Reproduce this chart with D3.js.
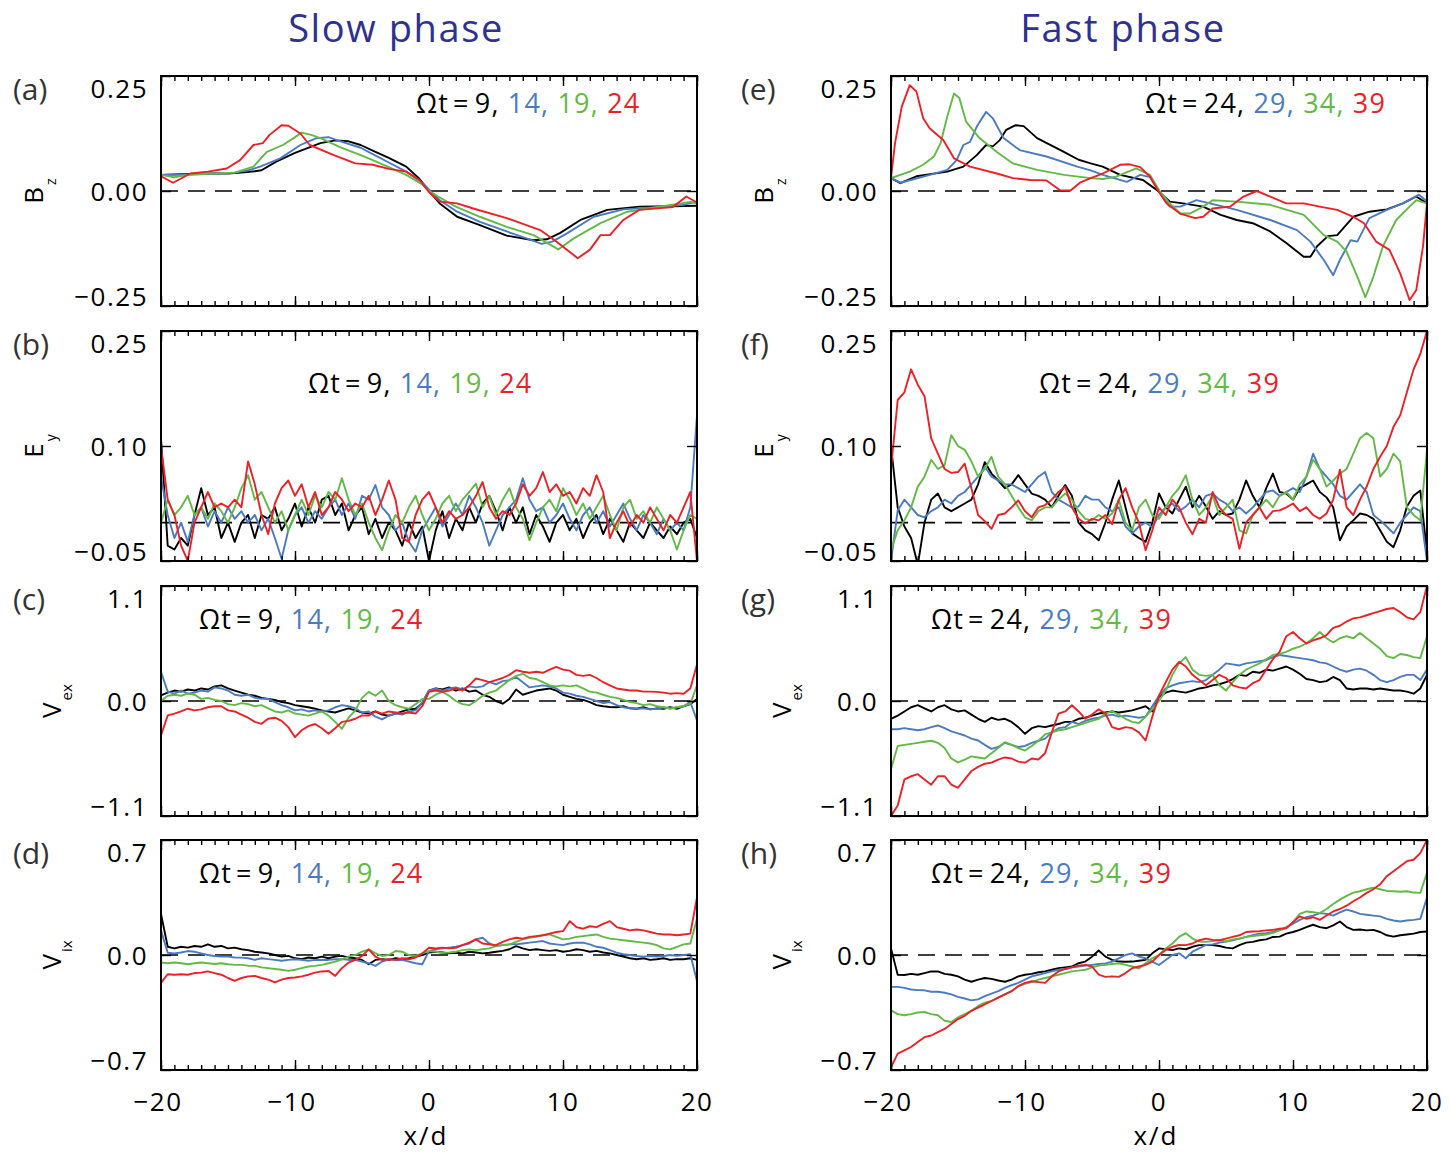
<!DOCTYPE html>
<html><head><meta charset="utf-8">
<script src="https://cdn.jsdelivr.net/npm/d3@7"></script>
<style>body{margin:0;background:#fff} svg{display:block}</style>
</head><body>
<svg id="c" width="1451" height="1153"></svg>
<script>
// ---------------- DATA ----------------
const colors = ["#000000", "#4a7bc0", "#63b946", "#ec2127"];
const legendSlow = ["9", "14", "19", "24"];
const legendFast = ["24", "29", "34", "39"];
const xMajorTicks = [-20, -10, 0, 10, 20];
const xTickLabels = ["\u221220", "\u221210", "0", "10", "20"];

const bzTicks = [-0.25, 0.00, 0.25], bzLabels = ["\u22120.25", "0.00", "0.25"];
const eyTicks = [-0.05, 0.10, 0.25], eyLabels = ["\u22120.05", "0.10", "0.25"];
const vexTicks = [-1.1, 0.0, 1.1], vexLabels = ["\u22121.1", "0.0", "1.1"];
const vixTicks = [-0.7, 0.0, 0.7], vixLabels = ["\u22120.7", "0.0", "0.7"];

// (a) Bz slow phase, [x, value]
const bzSlow9 = [[-20,0.035],[-18,0.037],[-16,0.038],[-15,0.038],[-14,0.04],[-13,0.043],[-12.5,0.045],[-11.4,0.064],[-10,0.083],[-8.1,0.104],[-7,0.11],[-6,0.108],[-5.1,0.1],[-4.2,0.088],[-3,0.072],[-1.7,0.053],[-0.7,0.026],[0,0.0],[0.8,-0.027],[2.1,-0.056],[3.8,-0.074],[5.8,-0.097],[7.8,-0.107],[8.8,-0.105],[9.8,-0.091],[11.3,-0.063],[13.3,-0.041],[15.7,-0.034],[18.2,-0.033],[20,-0.032]];
const bzSlow14 = [[-20,0.035],[-18,0.036],[-16,0.038],[-14.5,0.04],[-13.5,0.045],[-12.6,0.053],[-11.1,0.071],[-9.6,0.1],[-8.4,0.115],[-7.5,0.117],[-6.6,0.108],[-5.1,0.094],[-4.2,0.08],[-3,0.062],[-1.7,0.042],[-0.5,0.018],[0.1,0.0],[0.8,-0.02],[2.1,-0.045],[3.8,-0.067],[5.8,-0.088],[7.5,-0.105],[8.4,-0.115],[9.2,-0.11],[10.3,-0.092],[12.3,-0.056],[14.5,-0.04],[17,-0.035],[19,-0.03],[20,-0.023]];
const bzSlow19 = [[-20,0.035],[-19,0.03],[-18,0.035],[-16,0.038],[-14.5,0.04],[-13.1,0.053],[-12.1,0.085],[-10.9,0.1],[-10.1,0.115],[-9.5,0.127],[-8.8,0.122],[-8.1,0.115],[-6.6,0.095],[-5.1,0.078],[-4.2,0.067],[-3,0.052],[-1.7,0.035],[-0.5,0.014],[0,0.0],[0.8,-0.014],[2,-0.034],[3.8,-0.056],[5.8,-0.078],[7.8,-0.096],[9.65,-0.127],[10.8,-0.103],[12.8,-0.07],[14.8,-0.045],[17,-0.035],[19.5,-0.024],[20,-0.027]];
const bzSlow24 = [[-20,0.032],[-19.1,0.018],[-17.8,0.038],[-16.5,0.042],[-15.1,0.049],[-14.1,0.067],[-13.1,0.1],[-12.4,0.104],[-11.9,0.122],[-11,0.143],[-10.5,0.142],[-9.6,0.125],[-8.9,0.1],[-7.1,0.078],[-5.5,0.06],[-4.2,0.057],[-3,0.048],[-1.7,0.042],[-0.7,0.024],[0.05,-0.004],[0.8,-0.023],[2.1,-0.027],[3.3,-0.038],[5.8,-0.059],[8.3,-0.085],[9.5,-0.11],[11.1,-0.146],[12,-0.128],[12.8,-0.096],[13.5,-0.096],[14.5,-0.063],[15.7,-0.041],[18.2,-0.035],[19.2,-0.012],[20,-0.025]];

// (e) Bz fast phase, [x, value]
const bzFast24 = [[-20,0.028],[-19.3,0.017],[-18.1,0.032],[-15.8,0.042],[-14.6,0.053],[-13.6,0.078],[-12.9,0.1],[-12.4,0.097],[-11.9,0.11],[-11.4,0.133],[-10.7,0.143],[-10.1,0.141],[-9.1,0.115],[-7.1,0.085],[-6,0.068],[-5.1,0.06],[-4.2,0.053],[-2.9,0.035],[-1.2,0.024],[-0.2,0.003],[0.8,-0.023],[1.8,-0.027],[3.3,-0.034],[4.6,-0.052],[5.8,-0.063],[7,-0.07],[8.3,-0.088],[9.5,-0.113],[10.8,-0.143],[11.3,-0.143],[11.8,-0.12],[12.6,-0.098],[13.3,-0.096],[14.5,-0.056],[15.7,-0.045],[17,-0.04],[18.2,-0.027],[19.2,-0.012],[20,-0.027]];
const bzFast29 = [[-20,0.028],[-19.3,0.018],[-17.1,0.035],[-15.8,0.046],[-15.1,0.067],[-14.6,0.1],[-14.1,0.107],[-13.6,0.14],[-12.9,0.172],[-12.4,0.158],[-11.6,0.115],[-10.4,0.089],[-8.4,0.075],[-6.1,0.053],[-5.1,0.045],[-4.2,0.035],[-2.4,0.02],[-1.4,0.035],[-0.67,0.03],[0,0.0],[0.8,-0.034],[1.6,-0.034],[2.8,-0.02],[3.8,-0.027],[5.8,-0.041],[8.3,-0.063],[10.3,-0.085],[11.3,-0.11],[12.3,-0.15],[13,-0.183],[13.5,-0.15],[14.3,-0.107],[14.8,-0.11],[15.7,-0.059],[17,-0.041],[18.2,-0.027],[19.4,-0.008],[20,-0.023]];
const bzFast34 = [[-20,0.028],[-18.6,0.042],[-17.6,0.057],[-16.8,0.075],[-16.3,0.104],[-15.8,0.162],[-15.3,0.212],[-14.9,0.202],[-14.4,0.151],[-13.4,0.115],[-12.1,0.085],[-10.9,0.06],[-9.1,0.046],[-7.1,0.035],[-5.1,0.028],[-4.2,0.026],[-3.2,0.031],[-1.7,0.049],[-0.67,0.035],[0.05,0.0],[0.8,-0.027],[1.6,-0.049],[2.3,-0.049],[3.3,-0.034],[4,-0.02],[5.8,-0.023],[8.3,-0.03],[10.8,-0.052],[12.3,-0.096],[13.3,-0.11],[14,-0.132],[14.8,-0.186],[15.4,-0.231],[16,-0.186],[16.7,-0.121],[17.7,-0.063],[18.7,-0.034],[19.2,-0.02],[20,-0.027]];
const bzFast39 = [[-20,0.028],[-19.7,0.104],[-19.2,0.183],[-18.6,0.23],[-18.1,0.216],[-17.6,0.158],[-17.1,0.136],[-16.1,0.111],[-15.3,0.071],[-14.1,0.053],[-12.1,0.038],[-10.9,0.028],[-9.6,0.024],[-8.4,0.023],[-7.4,0.002],[-6.6,0.001],[-5.9,0.018],[-5.1,0.028],[-4.2,0.038],[-2.9,0.057],[-2.2,0.058],[-1.4,0.052],[-0.67,0.031],[-0.05,0.0],[0.57,-0.027],[1.57,-0.049],[2.7,-0.059],[3.3,-0.056],[4,-0.038],[5.3,-0.034],[6.3,-0.012],[7.3,0.0],[8.3,-0.012],[9.5,-0.027],[10.8,-0.027],[12,-0.034],[13.3,-0.041],[14.5,-0.056],[15.3,-0.07],[16.2,-0.11],[17.2,-0.128],[18,-0.179],[18.7,-0.237],[19.2,-0.215],[19.7,-0.121],[20,-0.027]];

// (b) Ey slow phase, sampled evenly from x=-20 to x=20 (step 0.5)
const eySlow9 = [0.11,-0.03,-0.035,-0.02,-0.03,0.01,0.045,0.01,0.02,-0.02,0.0,-0.025,0.0,0.01,-0.02,0.01,0.005,0.02,-0.01,0.005,0.025,-0.005,0.02,0.0,0.03,0.035,0.01,0.025,-0.01,0.01,0.02,-0.015,0.005,-0.02,0.0,-0.01,-0.03,0.0,-0.02,-0.005,-0.05,-0.01,0.015,-0.02,0.005,-0.01,0.02,0.0,0.025,0.035,0.015,-0.01,0.02,0.0,0.02,-0.015,0.01,-0.005,-0.025,0.0,0.01,-0.01,0.005,-0.02,0.0,0.01,-0.015,0.005,-0.01,-0.025,0.0,-0.01,-0.02,0.0,-0.01,-0.02,-0.005,-0.015,0.0,0.005,-0.02];
const eySlow14 = [0.06,0.01,-0.02,0.0,-0.025,0.01,0.02,-0.005,0.015,0.0,0.02,0.005,0.015,0.0,0.01,-0.01,0.005,-0.02,-0.047,-0.01,0.01,0.02,0.0,0.015,0.005,0.02,0.03,0.01,0.025,0.005,0.035,0.03,0.049,0.02,0.01,-0.01,0.0,-0.025,-0.038,-0.01,0.005,0.02,-0.005,0.01,0.025,0.01,0.035,0.02,0.0,-0.03,-0.01,0.01,0.02,0.03,0.058,0.03,0.015,0.02,0.0,0.01,0.025,0.005,-0.01,0.01,0.02,0.0,0.015,-0.005,0.01,0.025,0.005,-0.01,0.01,0.0,-0.015,0.005,-0.01,0.0,-0.01,0.02,0.14];
const eySlow19 = [0.0,0.03,0.01,0.02,0.035,0.01,0.02,0.005,0.025,0.015,0.0,0.02,0.045,0.062,0.03,0.04,0.02,0.0,0.015,-0.01,0.01,0.03,0.01,0.035,0.02,0.04,0.03,0.058,0.03,0.01,0.025,0.0,-0.02,-0.036,-0.01,0.01,0.0,0.02,0.035,0.01,-0.01,0.005,0.025,0.035,0.015,0.03,0.04,0.051,0.02,0.035,0.01,0.03,0.045,0.02,0.005,-0.023,0.0,0.02,0.03,0.015,0.045,0.03,0.01,0.025,0.005,0.02,0.035,0.01,-0.01,0.02,0.03,0.005,0.015,0.0,0.02,0.005,-0.01,-0.035,-0.01,0.01,0.005];
const eySlow24 = [0.10,0.03,0.01,-0.03,-0.05,0.0,0.02,0.04,0.02,0.025,0.02,0.03,0.02,0.08,0.05,0.01,-0.015,0.025,0.045,0.055,0.035,0.05,0.02,0.04,0.01,0.02,0.04,0.03,0.015,0.025,0.02,0.035,0.01,0.03,0.055,0.03,-0.02,-0.025,0.01,0.03,0.04,0.02,0.0,0.015,0.005,0.01,0.02,0.035,0.053,0.02,0.005,0.015,0.01,0.025,0.05,0.035,0.045,0.066,0.04,0.05,0.035,0.04,0.025,0.045,0.035,0.062,0.04,-0.02,0.0,0.015,-0.005,0.01,0.0,0.02,0.005,-0.01,0.01,0.0,0.02,0.04,-0.05];

// (f) Ey fast phase, sampled evenly (step 0.5)
const eyFast24 = [0.1,0.02,-0.005,-0.02,-0.055,0.0,0.03,0.038,0.02,0.015,0.02,0.025,0.03,0.05,0.079,0.064,0.055,0.045,0.05,0.062,0.05,0.038,0.035,0.03,0.02,0.035,0.049,0.035,0.0,-0.01,-0.015,-0.023,0.0,0.03,0.055,0.02,-0.014,-0.02,-0.025,0.0,0.038,0.02,0.012,0.03,0.047,0.02,0.035,0.021,0.005,0.015,0.01,0.012,0.03,0.055,0.035,0.02,0.045,0.064,0.04,0.038,0.03,0.045,0.05,0.055,0.04,0.033,0.02,-0.023,-0.005,0.003,0.012,0.01,0.005,-0.01,-0.025,-0.032,-0.01,0.021,0.035,0.042,-0.04];
const eyFast29 = [-0.05,0.016,0.03,0.02,0.01,0.007,0.015,0.02,0.03,0.025,0.035,0.04,0.05,0.06,0.073,0.06,0.055,0.05,0.05,0.045,0.04,0.05,0.06,0.066,0.04,0.03,0.025,0.02,0.021,0.035,0.03,0.03,0.02,0.015,0.02,-0.005,-0.014,-0.005,0.0,-0.006,0.01,0.02,0.025,0.015,0.021,0.03,0.02,0.035,0.038,0.03,0.025,0.015,0.02,0.012,0.02,0.03,0.04,0.042,0.035,0.04,0.045,0.04,0.06,0.09,0.07,0.06,0.05,0.035,0.03,0.04,0.05,0.04,0.01,0.003,-0.005,-0.014,0.0,0.01,0.02,0.015,-0.05];
const eyFast34 = [-0.036,-0.01,0.003,0.02,0.047,0.06,0.082,0.07,0.075,0.114,0.1,0.095,0.08,0.06,0.07,0.086,0.06,0.05,0.035,0.02,0.007,0.003,0.015,0.02,0.02,0.03,0.038,0.03,0.015,0.005,0.003,0.01,0.005,0.012,0.03,0.0,-0.01,0.02,0.03,0.01,0.005,0.02,0.035,0.045,0.062,0.03,0.01,0.02,0.035,0.01,0.02,0.03,-0.01,-0.014,0.01,0.02,0.03,0.02,0.035,0.04,0.03,0.05,0.06,0.082,0.07,0.047,0.055,0.064,0.07,0.09,0.11,0.117,0.11,0.06,0.07,0.09,0.08,0.02,0.01,0.003,0.095];
const eyFast39 = [0.07,0.16,0.17,0.2,0.18,0.165,0.11,0.09,0.07,0.065,0.066,0.077,0.045,0.01,0.002,-0.008,0.01,0.012,0.02,0.029,0.015,0.007,0.02,0.023,0.03,0.04,0.047,0.02,0.005,-0.001,0.005,0.003,0.01,-0.002,0.03,0.045,0.02,0.0,-0.036,-0.01,0.02,0.01,0.03,0.02,0.0,-0.015,0.005,0.0,0.04,0.02,0.01,0.005,-0.034,0.0,0.01,0.02,0.005,0.015,0.016,0.02,0.025,0.015,0.02,0.01,0.005,0.012,0.03,0.069,0.02,0.01,0.03,0.047,0.07,0.086,0.1,0.125,0.14,0.17,0.2,0.22,0.25];

// (c) Vex slow phase, sampled evenly (step 0.5)
const vexSlow9 = [0.055,0.08,0.1,0.09,0.11,0.1,0.12,0.11,0.14,0.15,0.12,0.1,0.08,0.06,0.05,0.03,0.02,0.01,-0.01,-0.02,-0.04,-0.05,-0.06,-0.074,-0.09,-0.1,-0.11,-0.09,-0.07,-0.09,-0.11,-0.12,-0.1,-0.13,-0.14,-0.12,-0.1,-0.08,-0.074,-0.02,0.1,0.12,0.11,0.13,0.1,0.12,0.09,0.1,0.06,0.04,0.0,-0.026,0.02,0.11,0.06,0.08,0.1,0.11,0.12,0.1,0.06,0.04,0.02,0.01,-0.01,-0.04,-0.05,-0.058,-0.06,-0.05,-0.07,-0.074,-0.06,-0.08,-0.07,-0.074,-0.06,-0.074,-0.05,-0.03,0.02];
const vexSlow14 = [0.28,0.09,0.07,0.1,0.07,0.08,0.1,0.09,0.13,0.12,0.1,0.06,0.05,0.06,0.03,0.02,0.02,-0.01,-0.04,-0.06,-0.09,-0.08,-0.1,-0.09,-0.1,-0.09,-0.06,-0.04,-0.05,-0.07,-0.11,-0.1,-0.15,-0.176,-0.14,-0.12,-0.13,-0.1,-0.09,-0.01,0.1,0.12,0.1,0.12,0.13,0.11,0.14,0.13,0.14,0.18,0.16,0.19,0.2,0.23,0.18,0.13,0.14,0.15,0.14,0.12,0.08,0.07,0.05,0.04,0.02,0.0,-0.02,-0.01,-0.04,-0.06,-0.07,-0.074,-0.07,-0.08,-0.074,-0.06,-0.07,-0.06,-0.05,-0.01,-0.186];
const vexSlow19 = [0.0,0.05,0.06,0.05,0.07,0.06,0.02,0.03,0.01,0.0,-0.03,-0.04,-0.02,-0.03,-0.05,-0.04,-0.07,-0.1,-0.11,-0.09,-0.12,-0.13,-0.14,-0.12,-0.1,-0.14,-0.2,-0.266,-0.16,-0.09,0.03,0.087,0.05,0.1,0.0,-0.04,-0.06,-0.074,-0.03,0.02,0.02,0.06,0.087,0.05,0.0,-0.03,-0.04,0.0,0.05,0.08,0.1,0.15,0.2,0.24,0.26,0.22,0.21,0.18,0.15,0.14,0.15,0.14,0.15,0.12,0.09,0.08,0.06,0.04,0.03,0.01,-0.01,-0.02,-0.04,-0.03,-0.05,-0.06,-0.074,-0.06,-0.05,-0.026,0.15];
const vexSlow24 = [-0.33,-0.138,-0.12,-0.1,-0.074,-0.09,-0.08,-0.06,-0.05,-0.05,-0.09,-0.1,-0.13,-0.16,-0.2,-0.218,-0.17,-0.16,-0.19,-0.25,-0.346,-0.28,-0.24,-0.22,-0.26,-0.314,-0.26,-0.2,-0.19,-0.17,-0.138,-0.14,-0.1,-0.12,-0.1,-0.11,-0.12,-0.11,-0.12,-0.05,0.087,0.1,0.087,0.1,0.12,0.1,0.15,0.215,0.2,0.18,0.2,0.22,0.25,0.295,0.28,0.27,0.28,0.27,0.3,0.327,0.3,0.29,0.25,0.24,0.25,0.22,0.18,0.15,0.12,0.11,0.1,0.1,0.09,0.09,0.087,0.08,0.07,0.075,0.07,0.12,0.35];

// (g) Vex fast phase, sampled evenly (step 0.5)
const vexFast24 = [-0.17,-0.14,-0.1,-0.06,-0.04,-0.07,-0.1,-0.06,-0.04,-0.08,-0.1,-0.09,-0.13,-0.17,-0.2,-0.16,-0.18,-0.17,-0.2,-0.25,-0.314,-0.26,-0.24,-0.25,-0.234,-0.22,-0.2,-0.2,-0.17,-0.16,-0.14,-0.12,-0.11,-0.1,-0.11,-0.1,-0.09,-0.07,-0.05,-0.1,0.04,0.08,0.1,0.09,0.08,0.1,0.12,0.13,0.15,0.16,0.18,0.21,0.25,0.24,0.28,0.27,0.3,0.29,0.31,0.33,0.3,0.26,0.21,0.2,0.18,0.19,0.23,0.2,0.12,0.11,0.12,0.12,0.11,0.12,0.11,0.1,0.1,0.09,0.07,0.12,0.25];
const vexFast29 = [-0.27,-0.27,-0.26,-0.27,-0.28,-0.27,-0.25,-0.234,-0.26,-0.29,-0.31,-0.33,-0.36,-0.378,-0.42,-0.458,-0.44,-0.4,-0.42,-0.44,-0.43,-0.4,-0.38,-0.36,-0.3,-0.26,-0.25,-0.2,-0.22,-0.19,-0.17,-0.16,-0.14,-0.13,-0.15,-0.14,-0.15,-0.16,-0.15,-0.05,0.05,0.12,0.15,0.17,0.18,0.19,0.18,0.2,0.25,0.3,0.36,0.35,0.34,0.36,0.37,0.38,0.39,0.42,0.44,0.43,0.42,0.41,0.4,0.39,0.37,0.36,0.33,0.3,0.28,0.3,0.31,0.29,0.25,0.2,0.18,0.2,0.23,0.25,0.25,0.2,0.3];
const vexFast34 = [-0.65,-0.43,-0.42,-0.41,-0.4,-0.39,-0.38,-0.4,-0.45,-0.55,-0.587,-0.56,-0.53,-0.54,-0.55,-0.5,-0.45,-0.394,-0.42,-0.45,-0.474,-0.43,-0.38,-0.32,-0.3,-0.28,-0.27,-0.25,-0.23,-0.21,-0.19,-0.17,-0.12,-0.1,-0.13,-0.17,-0.2,-0.21,-0.15,-0.08,0.0,0.1,0.25,0.36,0.42,0.3,0.25,0.24,0.25,0.15,0.1,0.18,0.25,0.3,0.33,0.36,0.4,0.44,0.45,0.47,0.5,0.52,0.55,0.6,0.66,0.6,0.56,0.6,0.62,0.6,0.65,0.6,0.55,0.5,0.43,0.41,0.45,0.44,0.42,0.41,0.62];
const vexFast39 = [-1.1,-1.0,-0.75,-0.72,-0.7,-0.75,-0.8,-0.72,-0.72,-0.8,-0.83,-0.75,-0.67,-0.63,-0.6,-0.59,-0.56,-0.54,-0.55,-0.58,-0.59,-0.55,-0.56,-0.5,-0.3,-0.12,-0.1,-0.04,-0.1,-0.17,-0.13,-0.08,-0.12,-0.25,-0.27,-0.25,-0.26,-0.3,-0.378,-0.15,0.05,0.18,0.3,0.375,0.33,0.25,0.2,0.15,0.2,0.25,0.22,0.15,0.13,0.12,0.17,0.2,0.3,0.4,0.47,0.62,0.66,0.6,0.55,0.58,0.6,0.63,0.7,0.72,0.76,0.79,0.8,0.82,0.84,0.86,0.88,0.89,0.85,0.8,0.78,0.85,1.1];

// (d) Vix slow phase, sampled evenly (step 0.5)
const vixSlow9 = [0.25,0.05,0.04,0.05,0.045,0.055,0.05,0.065,0.05,0.055,0.04,0.045,0.035,0.03,0.02,0.015,0.01,0.0,-0.01,-0.005,-0.02,-0.026,-0.015,-0.02,-0.01,-0.02,-0.01,-0.005,-0.015,-0.02,-0.03,-0.056,-0.03,-0.025,-0.03,-0.02,-0.026,-0.02,-0.01,0.0,0.015,0.02,0.015,0.01,0.014,0.01,0.02,0.015,0.01,0.014,0.02,0.025,0.035,0.054,0.04,0.03,0.035,0.03,0.025,0.03,0.02,0.025,0.035,0.03,0.02,0.025,0.015,0.01,0.0,-0.01,-0.02,-0.026,-0.02,-0.03,-0.026,-0.02,-0.03,-0.025,-0.026,-0.02,-0.03];
const vixSlow14 = [0.15,0.014,0.01,0.015,0.024,0.02,0.01,0.0,-0.006,-0.01,-0.01,-0.015,-0.016,-0.02,-0.03,-0.02,-0.025,-0.03,-0.035,-0.03,-0.026,-0.03,-0.035,-0.03,-0.03,-0.03,-0.026,-0.025,-0.03,-0.03,-0.04,-0.05,-0.066,-0.04,-0.026,-0.03,-0.03,-0.04,-0.05,-0.056,0.024,0.035,0.04,0.045,0.05,0.06,0.07,0.095,0.105,0.07,0.054,0.06,0.065,0.065,0.07,0.075,0.08,0.085,0.07,0.065,0.06,0.07,0.075,0.075,0.065,0.05,0.044,0.03,0.014,0.005,0.0,-0.006,-0.01,-0.006,-0.01,-0.006,0.0,-0.005,0.0,0.005,-0.16];
const vixSlow19 = [-0.046,-0.05,-0.046,-0.05,-0.056,-0.05,-0.046,-0.05,-0.055,-0.05,-0.056,-0.06,-0.06,-0.065,-0.066,-0.075,-0.08,-0.085,-0.09,-0.097,-0.09,-0.08,-0.07,-0.066,-0.06,-0.05,-0.04,-0.026,-0.01,0.0,0.02,0.034,0.01,-0.006,0.0,0.024,0.02,0.0,-0.006,0.01,0.024,0.02,0.014,0.015,0.02,0.03,0.034,0.03,0.035,0.04,0.054,0.06,0.065,0.08,0.095,0.105,0.11,0.12,0.125,0.11,0.095,0.1,0.11,0.115,0.12,0.125,0.11,0.1,0.095,0.09,0.085,0.08,0.075,0.07,0.06,0.04,0.034,0.05,0.065,0.07,0.22];
const vixSlow24 = [-0.17,-0.117,-0.12,-0.117,-0.12,-0.11,-0.107,-0.1,-0.11,-0.12,-0.14,-0.157,-0.14,-0.13,-0.127,-0.14,-0.15,-0.167,-0.15,-0.14,-0.137,-0.13,-0.12,-0.107,-0.1,-0.097,-0.127,-0.08,-0.046,-0.03,-0.006,0.034,-0.01,-0.03,-0.026,-0.03,-0.02,-0.026,-0.015,0.01,0.044,0.04,0.045,0.04,0.044,0.06,0.075,0.095,0.07,0.065,0.06,0.08,0.095,0.105,0.1,0.11,0.115,0.12,0.13,0.14,0.145,0.206,0.17,0.16,0.175,0.17,0.19,0.206,0.17,0.16,0.15,0.155,0.15,0.14,0.13,0.125,0.125,0.12,0.125,0.13,0.35];

// (h) Vix fast phase, sampled evenly (step 0.5)
const vixFast24 = [0.04,-0.12,-0.122,-0.115,-0.12,-0.11,-0.1,-0.1,-0.115,-0.12,-0.13,-0.15,-0.163,-0.15,-0.14,-0.145,-0.155,-0.163,-0.15,-0.13,-0.12,-0.115,-0.105,-0.1,-0.09,-0.08,-0.075,-0.07,-0.05,-0.04,-0.01,0.027,-0.01,-0.03,-0.04,-0.041,-0.04,-0.035,-0.03,0.01,0.04,0.035,0.03,0.04,0.035,0.05,0.06,0.06,0.061,0.055,0.045,0.04,0.06,0.075,0.08,0.09,0.095,0.11,0.112,0.13,0.14,0.153,0.17,0.184,0.17,0.163,0.18,0.204,0.17,0.153,0.155,0.15,0.153,0.14,0.12,0.112,0.12,0.125,0.13,0.14,0.143];
const vixFast29 = [-0.194,-0.194,-0.2,-0.21,-0.214,-0.215,-0.224,-0.224,-0.23,-0.24,-0.255,-0.265,-0.276,-0.27,-0.25,-0.235,-0.22,-0.2,-0.184,-0.17,-0.15,-0.13,-0.12,-0.11,-0.1,-0.09,-0.085,-0.075,-0.071,-0.065,-0.06,-0.055,-0.051,-0.04,-0.02,0.0,0.01,-0.01,-0.02,-0.04,-0.061,-0.03,0.0,0.01,-0.02,0.02,0.04,0.061,0.065,0.075,0.082,0.09,0.1,0.11,0.12,0.13,0.133,0.14,0.153,0.17,0.19,0.214,0.23,0.24,0.255,0.25,0.24,0.26,0.276,0.265,0.25,0.245,0.24,0.235,0.22,0.21,0.204,0.21,0.214,0.22,0.35];
const vixFast34 = [-0.337,-0.36,-0.367,-0.36,-0.35,-0.347,-0.36,-0.367,-0.4,-0.408,-0.38,-0.36,-0.34,-0.31,-0.29,-0.28,-0.26,-0.24,-0.22,-0.19,-0.175,-0.165,-0.15,-0.14,-0.13,-0.12,-0.11,-0.1,-0.095,-0.09,-0.075,-0.065,-0.06,-0.055,-0.05,-0.06,-0.07,-0.082,-0.05,-0.02,0.0,0.04,0.07,0.11,0.133,0.1,0.082,0.08,0.085,0.09,0.082,0.095,0.1,0.11,0.115,0.12,0.125,0.135,0.15,0.165,0.2,0.25,0.265,0.26,0.255,0.28,0.31,0.337,0.36,0.38,0.388,0.4,0.41,0.4,0.39,0.388,0.385,0.388,0.38,0.378,0.5];
const vixFast39 = [-0.684,-0.6,-0.58,-0.56,-0.53,-0.5,-0.49,-0.47,-0.45,-0.42,-0.39,-0.37,-0.34,-0.32,-0.3,-0.28,-0.26,-0.24,-0.22,-0.19,-0.17,-0.16,-0.165,-0.17,-0.13,-0.1,-0.085,-0.075,-0.065,-0.06,-0.07,-0.12,-0.133,-0.13,-0.133,-0.11,-0.08,-0.07,-0.06,-0.04,0.0,0.031,0.05,0.061,0.06,0.07,0.09,0.1,0.092,0.09,0.1,0.11,0.12,0.14,0.143,0.145,0.15,0.153,0.16,0.163,0.2,0.235,0.22,0.23,0.214,0.24,0.265,0.28,0.3,0.327,0.35,0.378,0.4,0.43,0.48,0.51,0.54,0.571,0.58,0.62,0.7];

// ---------------- DRAWING ----------------
const even = vals => vals.map((v, i) => [-20 + 40 * i / (vals.length - 1), v]);

const colX = [161, 891];
const panelW = 536;
const rowTop = [76, 331, 586, 840];
const panelH = 230;

const panels = [
  {col:0,row:0,tag:"(a)",dom:[-0.25,0.25],ticks:bzTicks,labels:bzLabels,ttl:["B","z"],leg:legendSlow,lx:255,ly:37,series:[bzSlow9,bzSlow14,bzSlow19,bzSlow24]},
  {col:0,row:1,tag:"(b)",dom:[-0.05,0.25],ticks:eyTicks,labels:eyLabels,ttl:["E","y"],leg:legendSlow,lx:147,ly:62,series:[eySlow9,eySlow14,eySlow19,eySlow24].map(even)},
  {col:0,row:2,tag:"(c)",dom:[-1.1,1.1],ticks:vexTicks,labels:vexLabels,ttl:["V","ex"],leg:legendSlow,lx:38,ly:43,series:[vexSlow9,vexSlow14,vexSlow19,vexSlow24].map(even)},
  {col:0,row:3,tag:"(d)",dom:[-0.7,0.7],ticks:vixTicks,labels:vixLabels,ttl:["V","ix"],leg:legendSlow,lx:38,ly:43,series:[vixSlow9,vixSlow14,vixSlow19,vixSlow24].map(even)},
  {col:1,row:0,tag:"(e)",dom:[-0.25,0.25],ticks:bzTicks,labels:bzLabels,ttl:["B","z"],leg:legendFast,lx:254,ly:37,series:[bzFast24,bzFast29,bzFast34,bzFast39]},
  {col:1,row:1,tag:"(f)",dom:[-0.05,0.25],ticks:eyTicks,labels:eyLabels,ttl:["E","y"],leg:legendFast,lx:148,ly:62,series:[eyFast24,eyFast29,eyFast34,eyFast39].map(even)},
  {col:1,row:2,tag:"(g)",dom:[-1.1,1.1],ticks:vexTicks,labels:vexLabels,ttl:["V","ex"],leg:legendFast,lx:40,ly:43,series:[vexFast24,vexFast29,vexFast34,vexFast39].map(even)},
  {col:1,row:3,tag:"(h)",dom:[-0.7,0.7],ticks:vixTicks,labels:vixLabels,ttl:["V","ix"],leg:legendFast,lx:40,ly:43,series:[vixFast24,vixFast29,vixFast34,vixFast39].map(even)}
];

const svg = d3.select("#c");
svg.append("rect").attr("width",1451).attr("height",1153).attr("fill","#fff");
const FONT = "'Open Sans', 'DejaVu Sans', sans-serif";
const TICKFS = 26;

// titles
svg.append("text").attr("x",396).attr("y",42).attr("text-anchor","middle")
  .attr("font-family",FONT).attr("font-size",38).attr("letter-spacing",1.6).attr("fill","#2e3192").text("Slow phase");
svg.append("text").attr("x",1123).attr("y",42).attr("text-anchor","middle")
  .attr("font-family",FONT).attr("font-size",38).attr("letter-spacing",1.6).attr("fill","#2e3192").text("Fast phase");

const defs = svg.append("defs");

panels.forEach((p, pi) => {
  const x0 = colX[p.col], x1 = x0 + panelW, top = rowTop[p.row], bot = top + panelH;
  const x = d3.scaleLinear().domain([-20, 20]).range([x0, x1]);
  const y = d3.scaleLinear().domain(p.dom).range([bot, top]);
  const g = svg.append("g");

  defs.append("clipPath").attr("id","clip"+pi).append("rect")
    .attr("x",x0).attr("y",top).attr("width",panelW).attr("height",panelH);

  // zero dashed line
  g.append("line").attr("x1",x0).attr("x2",x1).attr("y1",y(0)).attr("y2",y(0))
    .attr("stroke","#000").attr("stroke-width",1.6).attr("stroke-dasharray","17,10");

  // data lines
  const line = d3.line().x(d => x(d[0])).y(d => y(d[1]));
  const lg = g.append("g").attr("clip-path","url(#clip"+pi+")");
  p.series.forEach((s, si) => {
    lg.append("path").attr("d", line(s)).attr("fill","none")
      .attr("stroke", colors[si]).attr("stroke-width",1.9).attr("stroke-linejoin","round");
  });

  // axes: inward ticks on all four sides
  const minor = d3.range(-20, 21, 1);
  const axB = d3.axisBottom(x).tickValues(minor).tickSize(-5).tickFormat("");
  const axBM = d3.axisBottom(x).tickValues(xMajorTicks).tickSize(-10).tickFormat("");
  const axT = d3.axisTop(x).tickValues(minor).tickSize(-5).tickFormat("");
  const axTM = d3.axisTop(x).tickValues(xMajorTicks).tickSize(-10).tickFormat("");
  const axL = d3.axisLeft(y).tickValues(p.ticks).tickSize(-10).tickFormat("");
  const axR = d3.axisRight(y).tickValues(p.ticks).tickSize(-10).tickFormat("");
  [[axB,`translate(0,${bot})`],[axBM,`translate(0,${bot})`],[axT,`translate(0,${top})`],[axTM,`translate(0,${top})`],
   [axL,`translate(${x0},0)`],[axR,`translate(${x1},0)`]].forEach(([ax,tr]) => {
    const a = g.append("g").attr("transform",tr).call(ax);
    a.select(".domain").remove();
    a.selectAll("line").attr("stroke","#000").attr("stroke-width",1.4);
  });

  // frame
  g.append("rect").attr("x",x0).attr("y",top).attr("width",panelW).attr("height",panelH)
    .attr("fill","none").attr("stroke","#000").attr("stroke-width",2);

  // y tick labels
  p.ticks.forEach((t, ti) => {
    let cy = y(t);
    if (t === p.dom[1]) cy += 12.5; else if (t === p.dom[0]) cy -= 9; else cy += 0.5;
    g.append("text").attr("x", x0 - 13).attr("y", cy + 0.36 * TICKFS)
      .attr("text-anchor","end").attr("font-family",FONT).attr("font-size",TICKFS)
      .attr("letter-spacing",1.5).attr("fill","#000").text(p.labels[ti]);
  });

  // x tick labels on bottom row
  if (p.row === 3) {
    xMajorTicks.forEach((t, ti) => {
      g.append("text").attr("x", x(t) - (t < 0 ? 3 : 0)).attr("y", bot + 41)
        .attr("text-anchor","middle").attr("font-family",FONT).attr("font-size",TICKFS)
        .attr("letter-spacing",1.5).attr("fill","#000").text(xTickLabels[ti]);
    });
    g.append("text").attr("x", (x0 + x1) / 2 - 3).attr("y", bot + 75)
      .attr("text-anchor","middle").attr("font-family",FONT).attr("font-size",TICKFS)
      .attr("letter-spacing",2).attr("fill","#000").text("x/d");
  }

  // y axis title (rotated, with subscript)
  const tx = p.col === 0 ? 0 : 730;
  const isV = p.ttl[0] === "V";
  const baseX = (isV ? 61 : 43) + tx;
  const t = g.append("text").attr("transform",`translate(${baseX},${(top+bot)/2}) rotate(-90)`)
    .attr("text-anchor","middle").attr("font-family",FONT).attr("font-size",26).attr("fill","#000");
  t.append("tspan").text(p.ttl[0]);
  t.append("tspan").attr("dy",isV ? 11 : 13).attr("dx",2).attr("font-size",isV ? 15 : 14).text(p.ttl[1]);

  // panel tag
  g.append("text").attr("x", p.col === 0 ? 13 : 741).attr("y", top + 24)
    .attr("font-family",FONT).attr("font-size",30).attr("fill","#333").text(p.tag);

  // legend: baseline at top + ly
  const lt = g.append("text").attr("x", x0 + p.lx).attr("y", top + p.ly)
    .attr("font-family",FONT).attr("font-size",27).attr("letter-spacing",1.2);
  lt.append("tspan").attr("fill",colors[0]).text("\u03A9t");
  lt.append("tspan").attr("fill",colors[0]).attr("dx",4).text("=");
  lt.append("tspan").attr("fill",colors[0]).attr("dx",5).text(p.leg[0] + ", ");
  lt.append("tspan").attr("fill",colors[1]).text(p.leg[1] + ", ");
  lt.append("tspan").attr("fill",colors[2]).text(p.leg[2] + ", ");
  lt.append("tspan").attr("fill",colors[3]).text(p.leg[3]);
});
</script>
</body></html>
